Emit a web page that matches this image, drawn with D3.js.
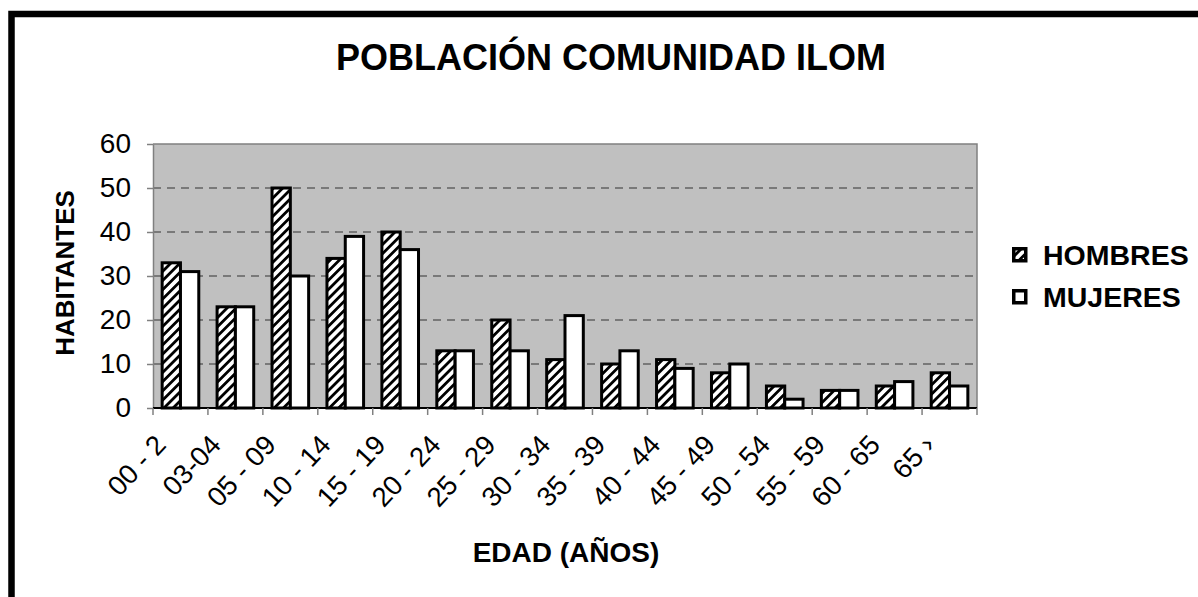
<!DOCTYPE html>
<html lang="es">
<head>
<meta charset="UTF-8">
<title>Población Comunidad Ilom</title>
<script src="https://d3js.org/d3.v7.min.js"></script>
<style>
    body { margin: 0; background: #fff; }
    svg text { font-family: "Liberation Sans", Arial, sans-serif; fill: #000; }
</style>
</head>
<body>
<svg width="1198" height="597"></svg>
<script>
    // data
    const categories = ["00 - 2", "03-04", "05 - 09", "10 - 14", "15 - 19", "20 - 24", "25 - 29",
        "30 - 34", "35 - 39", "40 - 44", "45 - 49", "50 - 54", "55 - 59", "60 - 65", "65 ›"];
    const hombres = [33, 23, 50, 34, 40, 13, 20, 11, 10, 11, 8, 5, 4, 5, 8];
    const mujeres = [31, 23, 30, 39, 36, 13, 13, 21, 13, 9, 10, 2, 4, 6, 5];
    const yTicks = [0, 10, 20, 30, 40, 50, 60];
    const seriesNames = ["HOMBRES", "MUJERES"];

    const svg = d3.select("svg");
    const plot = {left: 153, top: 144, right: 977, bottom: 408};

    // hatch pattern for HOMBRES
    const defs = svg.append("defs");
    const pat = defs.append("pattern")
        .attr("id", "hatch")
        .attr("patternUnits", "userSpaceOnUse")
        .attr("width", 6.5).attr("height", 6.5)
        .attr("patternTransform", "rotate(45)");
    pat.append("rect").attr("width", 6.5).attr("height", 6.5).attr("fill", "#fff");
    pat.append("rect").attr("width", 2.8).attr("height", 6.5).attr("fill", "#000");

    // outer frame (runs off the right and bottom edges)
    svg.append("rect")
        .attr("x", 11.5).attr("y", 14)
        .attr("width", 1300).attr("height", 700)
        .attr("fill", "#fff").attr("stroke", "#000").attr("stroke-width", 6.5);

    const x = d3.scaleBand().domain(categories).range([plot.left, plot.right]).padding(0);
    const y = d3.scaleLinear().domain([0, 60]).range([plot.bottom, plot.top]);

    // plot area
    svg.append("rect")
        .attr("x", plot.left).attr("y", plot.top)
        .attr("width", plot.right - plot.left).attr("height", plot.bottom - plot.top)
        .attr("fill", "#c0c0c0");

    // gridlines
    svg.append("g").selectAll("line")
        .data(yTicks.filter(d => d > 0 && d < 60))
        .join("line")
        .attr("x1", plot.left).attr("x2", plot.right)
        .attr("y1", d => y(d)).attr("y2", d => y(d))
        .attr("stroke", "#333").attr("stroke-width", 1.2)
        .attr("stroke-dasharray", "8,6");

    // top + right border of plot
    svg.append("path")
        .attr("d", `M${plot.left},${plot.top}H${plot.right}V${plot.bottom}`)
        .attr("fill", "none").attr("stroke", "#808080").attr("stroke-width", 1.5);

    // bars
    const bw = x.bandwidth() / 3;
    const groups = svg.append("g").selectAll("g")
        .data(categories)
        .join("g");

    groups.append("rect")
        .attr("x", (d, i) => x(d) + bw / 2)
        .attr("y", (d, i) => y(hombres[i]))
        .attr("width", bw)
        .attr("height", (d, i) => y(0) - y(hombres[i]))
        .attr("fill", "url(#hatch)")
        .attr("stroke", "#000").attr("stroke-width", 3);

    groups.append("rect")
        .attr("x", (d, i) => x(d) + bw * 1.5)
        .attr("y", (d, i) => y(mujeres[i]))
        .attr("width", bw)
        .attr("height", (d, i) => y(0) - y(mujeres[i]))
        .attr("fill", "#fff")
        .attr("stroke", "#000").attr("stroke-width", 3);

    // y axis
    const yAxis = svg.append("g")
        .attr("transform", `translate(${plot.left},0)`)
        .call(d3.axisLeft(y).tickValues(yTicks).tickSize(6).tickSizeOuter(0).tickPadding(16));
    yAxis.select(".domain").attr("stroke", "#808080").attr("stroke-width", 1.5);
    yAxis.selectAll(".tick line").attr("stroke", "#808080").attr("stroke-width", 1.5);
    yAxis.selectAll(".tick text")
        .attr("font-size", 28).attr("font-family", null).attr("fill", "#000");

    // x axis line and boundary ticks
    svg.append("line")
        .attr("x1", plot.left).attr("x2", plot.right)
        .attr("y1", plot.bottom).attr("y2", plot.bottom)
        .attr("stroke", "#000").attr("stroke-width", 2);
    const bounds = categories.map(c => x(c)).concat([x.range()[1]]);
    svg.append("g").selectAll("line")
        .data(bounds)
        .join("line")
        .attr("x1", d => d).attr("x2", d => d)
        .attr("y1", plot.bottom).attr("y2", plot.bottom + 7)
        .attr("stroke", "#808080").attr("stroke-width", 1.5);

    // rotated category labels
    svg.append("g").selectAll("text")
        .data(categories)
        .join("text")
        .attr("transform", d => `translate(${x(d) + x.bandwidth() / 2 - 13},446) rotate(-47)`)
        .attr("text-anchor", "end")
        .attr("font-size", 27.5)
        .text(d => d);

    // titles
    svg.append("text")
        .attr("x", 611).attr("y", 70)
        .attr("text-anchor", "middle")
        .attr("font-size", 36).attr("font-weight", "bold")
        .text("POBLACIÓN COMUNIDAD ILOM");

    svg.append("text")
        .attr("transform", "translate(74,273) rotate(-90)")
        .attr("text-anchor", "middle")
        .attr("font-size", 26).attr("font-weight", "bold")
        .text("HABITANTES");

    svg.append("text")
        .attr("x", 566).attr("y", 562)
        .attr("text-anchor", "middle")
        .attr("font-size", 28).attr("font-weight", "bold")
        .text("EDAD (AÑOS)");

    // legend
    const legend = svg.append("g").selectAll("g")
        .data(seriesNames)
        .join("g")
        .attr("transform", (d, i) => `translate(1012,${247 + i * 42})`);
    legend.append("rect")
        .attr("x", 1.75).attr("y", 1.75)
        .attr("width", 12).attr("height", 12)
        .attr("fill", (d, i) => i === 0 ? "url(#hatch)" : "#fff")
        .attr("stroke", "#000").attr("stroke-width", 3.5);
    legend.append("text")
        .attr("x", 31).attr("y", 18)
        .attr("font-size", 28.5).attr("font-weight", "bold")
        .text(d => d);
</script>
</body>
</html>
